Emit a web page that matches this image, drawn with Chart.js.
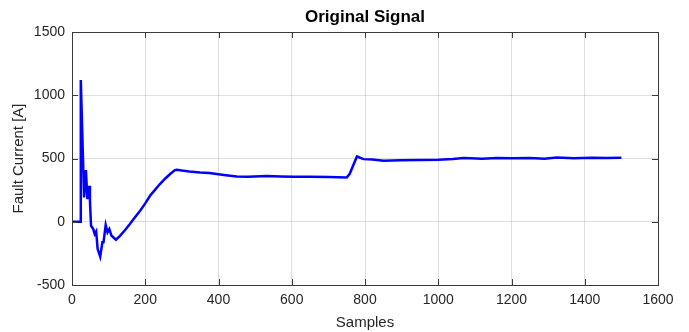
<!DOCTYPE html>
<html>
<head>
<meta charset="utf-8">
<script src="https://cdn.jsdelivr.net/npm/chart.js@4/dist/chart.umd.min.js"></script>
<style>
  html, body { margin: 0; padding: 0; background: #fff; }
  #signalChart { display: block; }
</style>
</head>
<body>
<canvas id="signalChart" width="689" height="332"></canvas>
<script>
// sample index and fault current
const samples = [0, 22, 24, 33, 38, 42, 47, 49, 52, 58, 62, 66, 70, 77, 83, 86, 92, 97, 102, 108,
    120, 131, 145, 158, 172, 186, 200, 213, 226, 240, 254, 268, 281, 286, 300, 320, 350, 375, 395,
    420, 450, 480, 532, 570, 605, 650, 700, 750, 758, 778, 796, 820, 851, 896, 950, 1001, 1040,
    1069, 1120, 1160, 1201, 1250, 1290, 1324, 1370, 1420, 1460, 1497, 1500];
const current = [0, 0, 1121, 192, 408, 179, 284, 166, -32, -58, -97, -76, -216, -276, -163, -163, -26, -84, -58, -111,
    -142, -111, -65, -18, 35, 87, 145, 205, 250, 298, 340, 377, 408, 411, 405, 398, 390, 385, 377,
    368, 358, 356, 361, 357, 355, 356, 354, 350, 377, 516, 495, 492, 482, 487, 488, 490, 496,
    503, 499, 503, 501, 504, 499, 508, 502, 505, 503, 506, 506];
const xTicks = [0, 200, 400, 600, 800, 1000, 1200, 1400, 1600];
const yTicks = [-500, 0, 500, 1000, 1500];

const FONT = "'Liberation Sans', Arial, Helvetica, sans-serif";
const AXIS_COLOR = '#262626';

/* title over the axes, box round them with inward ticks on all four sides */
const boxPlugin = {
    id: 'matlabBox',
    afterDraw(chart) {
        const { ctx, chartArea: a, scales } = chart;
        const len = 6;
        ctx.save();
        ctx.strokeStyle = '#3a3a3a';
        ctx.lineWidth = 1;
        ctx.beginPath();
        xTicks.forEach(v => {
            const px = Math.round(scales.x.getPixelForValue(v)) + 0.5;
            ctx.moveTo(px, a.bottom); ctx.lineTo(px, a.bottom - len);
            ctx.moveTo(px, a.top); ctx.lineTo(px, a.top + len);
        });
        yTicks.forEach(v => {
            const py = Math.round(scales.y.getPixelForValue(v)) + 0.5;
            ctx.moveTo(a.left, py); ctx.lineTo(a.left + len, py);
            ctx.moveTo(a.right, py); ctx.lineTo(a.right - len, py);
        });
        ctx.stroke();
        ctx.strokeRect(Math.round(a.left) + 0.5, Math.round(a.top) + 0.5,
            Math.round(a.right - a.left), Math.round(a.bottom - a.top));

        ctx.fillStyle = '#000';
        ctx.font = 'bold 17px ' + FONT;
        ctx.textAlign = 'center';
        ctx.textBaseline = 'alphabetic';
        ctx.fillText('Original Signal', (a.left + a.right) / 2, 22);
        ctx.restore();
    }
};

new Chart(document.getElementById('signalChart').getContext('2d'), {
    type: 'line',
    data: {
        datasets: [{
            data: samples.map((s, i) => ({ x: s, y: current[i] })),
            borderColor: '#0000ff',
            borderWidth: 2.5,
            pointRadius: 0,
            tension: 0,
            fill: false
        }]
    },
    options: {
        responsive: false,
        animation: false,
        layout: { padding: { top: 32, right: 31, bottom: 0, left: 0 } },
        plugins: {
            legend: { display: false },
            tooltip: { enabled: false },
            title: { display: false }
        },
        scales: {
            x: {
                type: 'linear',
                min: 0,
                max: 1600,
                afterFit: s => { s.height = 47; },
                afterBuildTicks: s => { s.ticks = xTicks.map(v => ({ value: v })); },
                ticks: {
                    color: AXIS_COLOR, padding: 7, maxRotation: 0,
                    font: { family: FONT, size: 14 },
                    callback: v => String(v)
                },
                grid: { color: 'rgba(38,38,38,0.15)', drawTicks: false },
                border: { display: false },
                title: {
                    display: true,
                    text: 'Samples',
                    color: AXIS_COLOR,
                    font: { family: FONT, size: 15 },
                    padding: { top: 0, bottom: 0 }
                }
            },
            y: {
                min: -500,
                max: 1500,
                afterFit: s => { s.width = 72; },
                afterBuildTicks: s => { s.ticks = yTicks.map(v => ({ value: v })); },
                ticks: {
                    color: AXIS_COLOR, padding: 7,
                    font: { family: FONT, size: 14 },
                    callback: v => String(v)
                },
                grid: { color: 'rgba(38,38,38,0.15)', drawTicks: false },
                border: { display: false },
                title: {
                    display: true,
                    text: 'Fault Current [A]',
                    color: AXIS_COLOR,
                    font: { family: FONT, size: 15 },
                    padding: { top: 10, bottom: 0 }
                }
            }
        }
    },
    plugins: [boxPlugin]
});
</script>
</body>
</html>
